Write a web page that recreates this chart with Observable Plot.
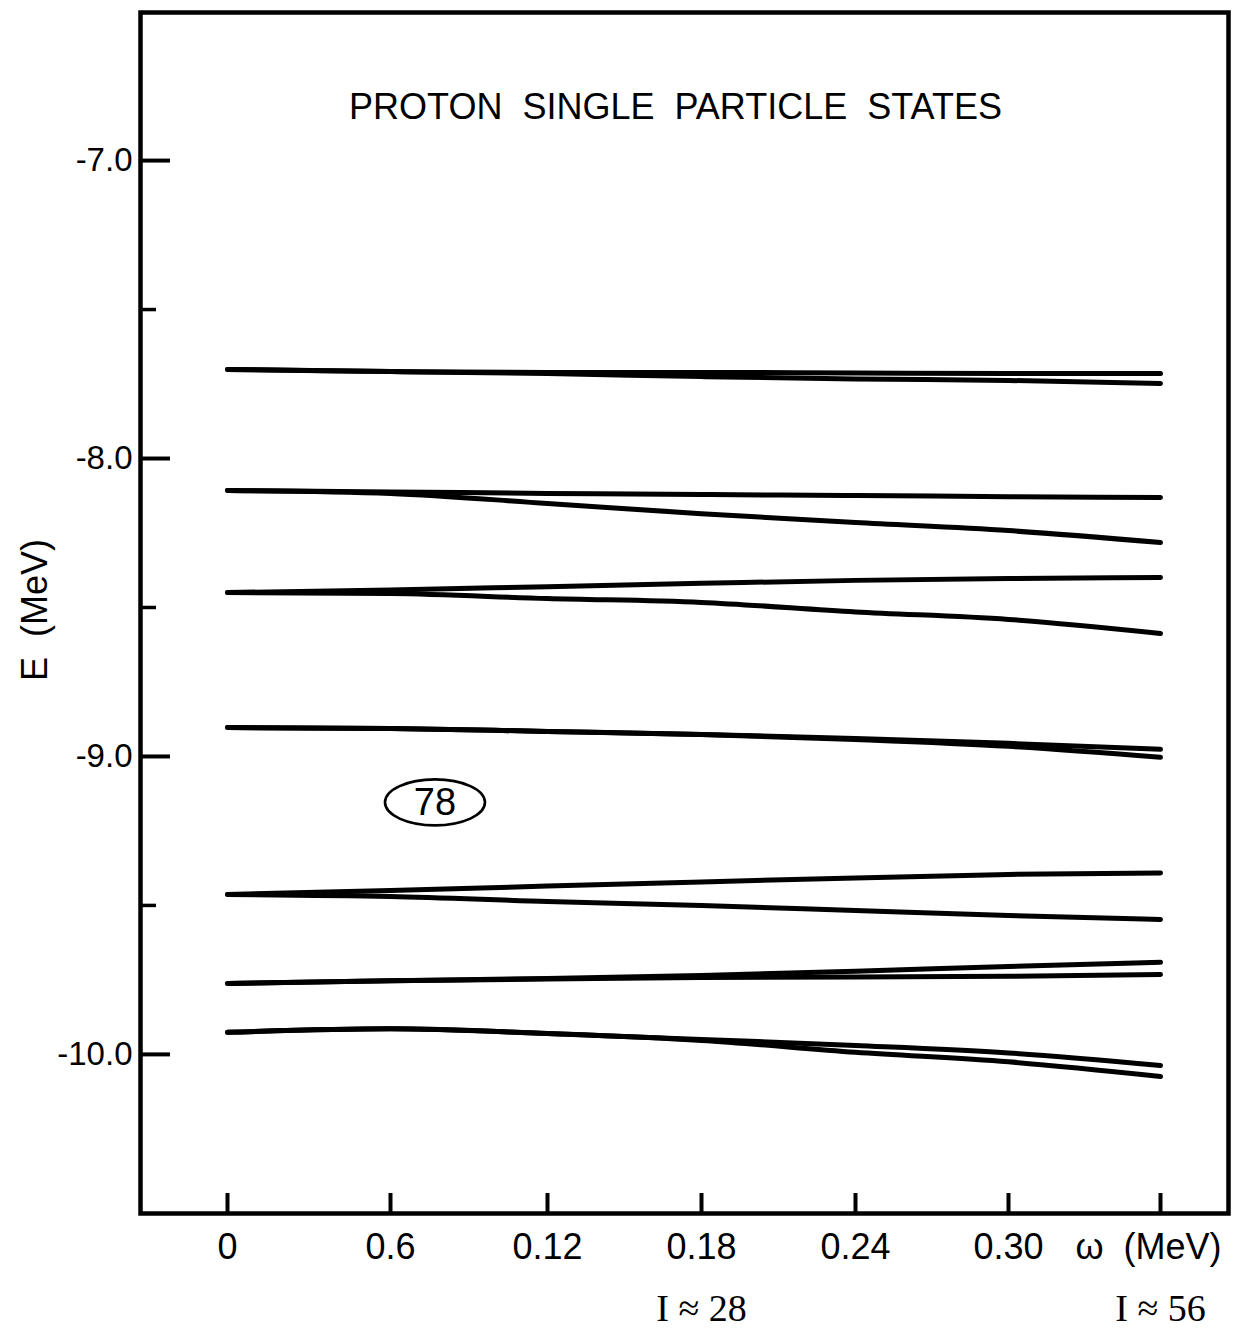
<!DOCTYPE html>
<html>
<head>
<meta charset="utf-8">
<script src="https://cdn.jsdelivr.net/npm/d3@7"></script>
<script src="https://cdn.jsdelivr.net/npm/@observablehq/plot@0.6"></script>
<style>
  html, body { margin: 0; padding: 0; background: #fff; }
</style>
</head>
<body>
<div id="chart"></div>
<script>
// ---- data ----
const omega = [0, 0.06, 0.12, 0.18, 0.24, 0.30, 0.36];

const s1a = [-7.701, -7.708, -7.711, -7.711, -7.713, -7.715, -7.715];
const s1b = [-7.701, -7.708, -7.715, -7.725, -7.733, -7.738, -7.748];
const s2a = [-8.107, -8.112, -8.117, -8.121, -8.124, -8.128, -8.131];
const s2b = [-8.107, -8.117, -8.151, -8.185, -8.215, -8.242, -8.282];
const s3a = [-8.450, -8.441, -8.430, -8.419, -8.409, -8.403, -8.399];
const s3b = [-8.450, -8.453, -8.470, -8.483, -8.515, -8.540, -8.587];
const s4a = [-8.903, -8.906, -8.916, -8.926, -8.940, -8.956, -8.976];
const s4b = [-8.903, -8.906, -8.916, -8.926, -8.943, -8.966, -9.003];
const s5a = [-9.463, -9.450, -9.435, -9.421, -9.408, -9.396, -9.391];
const s5b = [-9.463, -9.470, -9.487, -9.500, -9.517, -9.534, -9.547];
const s6a = [-9.762, -9.753, -9.745, -9.735, -9.721, -9.705, -9.691];
const s6b = [-9.762, -9.753, -9.747, -9.742, -9.740, -9.738, -9.732];
const s7a = [-9.926, -9.914, -9.930, -9.950, -9.970, -9.995, -10.037];
const s7b = [-9.926, -9.914, -9.930, -9.953, -9.993, -10.025, -10.074];

const stateNames = ["1a","1b","2a","2b","3a","3b","4a","4b","5a","5b","6a","6b","7a","7b"];
const stateValues = [s1a,s1b,s2a,s2b,s3a,s3b,s4a,s4b,s5a,s5b,s6a,s6b,s7a,s7b];

const xTickValues = [0, 0.06, 0.12, 0.18, 0.24, 0.30];
const xTickLabels = ["0", "0.6", "0.12", "0.18", "0.24", "0.30"];
const xUnitTick = [0.36];
const xUnitLabel = "ω  (MeV)";

const yMajorTicks = [-7, -8, -9, -10];
const yTickLabels = ["-7.0", "-8.0", "-9.0", "-10.0"];
const yMinorTicks = [-7.5, -8.5, -9.5];

const spinOmega = [0.18, 0.36];
const spinText = ["I ≈ 28", "I ≈ 56"];

const shellOmega = [0.077];
const shellE = [-9.154];
const shellText = ["78"];

const titleText = "PROTON  SINGLE  PARTICLE  STATES";
const yLabelText = "E  (MeV)";

// hand-drawn axis: tick positions are slightly uneven, so the x scale is piecewise
const xDomain = [-0.0336, 0, 0.06, 0.12, 0.18, 0.24, 0.30, 0.36, 0.3862];
const xRange  = [140, 227, 390, 547, 701, 855, 1008, 1160, 1228];

// ---- build table ----
const levels = [];
stateNames.forEach((name, k) => {
  omega.forEach((w, i) => levels.push({state: name, omega: w, E: stateValues[k][i]}));
});

const FONT = "'Liberation Sans', Arial, Helvetica, sans-serif";
const W = 1233, H = 1333;
const mL = 140, mR = 5, mT = 12, mB = 120;
const frameW = W - mL - mR, frameH = H - mT - mB;

// ellipse symbol for the "78" shell label
const ellipseSymbol = {
  draw(ctx, size) {
    const r = Math.sqrt(size / Math.PI);
    const rx = r, ry = r * 0.46, k = 0.5523;
    ctx.moveTo(rx, 0);
    ctx.bezierCurveTo(rx, ry * k, rx * k, ry, 0, ry);
    ctx.bezierCurveTo(-rx * k, ry, -rx, ry * k, -rx, 0);
    ctx.bezierCurveTo(-rx, -ry * k, -rx * k, -ry, 0, -ry);
    ctx.bezierCurveTo(rx * k, -ry, rx, -ry * k, rx, 0);
    ctx.closePath();
  }
};

const chart = Plot.plot({
  width: W,
  height: H,
  marginLeft: mL,
  marginRight: mR,
  marginTop: mT,
  marginBottom: mB,
  style: {fontFamily: FONT, color: "#000", background: "#fff", overflow: "visible"},
  x: {type: "linear", domain: xDomain, range: xRange, label: null, axis: null},
  y: {domain: [-10.534, -6.503], label: null, axis: null},
  marks: [
    Plot.frame({stroke: "#000", strokeWidth: 4.5}),
    // inward ticks
    Plot.tickX(xTickValues.concat(xUnitTick), {x: d => d, insetTop: frameH - 20, stroke: "#000", strokeWidth: 4}),
    Plot.tickY(yMajorTicks, {y: d => d, insetRight: frameW - 30, stroke: "#000", strokeWidth: 4}),
    Plot.tickY(yMinorTicks, {y: d => d, insetRight: frameW - 16, stroke: "#000", strokeWidth: 3.5}),
    // axes labels
    Plot.axisX(xTickValues, {
      tickSize: 0, tickPadding: 20, fontSize: 36,
      tickFormat: d => xTickLabels[xTickValues.indexOf(d)], label: null
    }),
    Plot.axisX(xUnitTick, {
      tickSize: 0, tickPadding: 20, fontSize: 36, dx: -12,
      tickFormat: () => xUnitLabel, label: null
    }),
    Plot.axisY(yMajorTicks, {
      tickSize: 0, tickPadding: 8, fontSize: 33,
      tickFormat: d => yTickLabels[yMajorTicks.indexOf(d)], label: null
    }),
    // level lines
    Plot.line(levels, {
      x: "omega", y: "E", z: "state",
      stroke: "#000", strokeWidth: 5, curve: "monotone-x",
      strokeLinecap: "round", strokeLinejoin: "round"
    }),
    // shell gap label
    Plot.dot(shellOmega, {
      x: d => d, y: (d, i) => shellE[i], r: 50, symbol: ellipseSymbol,
      fill: "none", stroke: "#000", strokeWidth: 2.6
    }),
    Plot.text(shellOmega, {
      x: d => d, y: (d, i) => shellE[i], text: (d, i) => shellText[i],
      fontSize: 38, fill: "#000"
    }),
    // title inside the frame
    Plot.text([titleText], {
      text: d => d, frameAnchor: "top", lineAnchor: "middle", textAnchor: "middle",
      dy: 95, dx: -9, fontSize: 36, fill: "#000"
    }),
    // y label
    Plot.text([yLabelText], {
      text: d => d, frameAnchor: "left", textAnchor: "middle", lineAnchor: "middle",
      dx: -105, dy: -3, rotate: -90, fontSize: 36, fill: "#000"
    }),
    // spin labels under the axis
    Plot.text(spinOmega, {
      x: d => d, text: (d, i) => spinText[i], frameAnchor: "bottom", lineAnchor: "middle",
      dy: 95, fontSize: 38, fontFamily: "'Liberation Serif', 'Times New Roman', serif", fill: "#000"
    })
  ]
});

document.getElementById("chart").appendChild(chart);
</script>
</body>
</html>
